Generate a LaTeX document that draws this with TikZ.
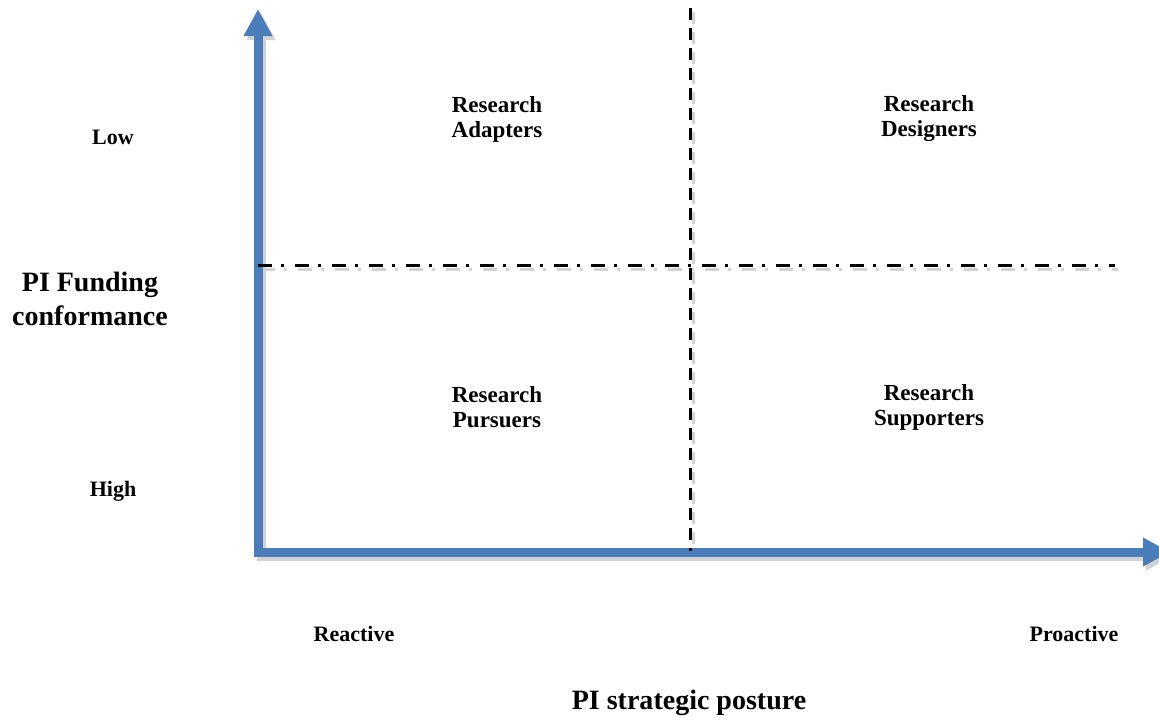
\documentclass[tikz,border=0pt]{standalone}
\usepackage{fontspec}
\setmainfont{Liberation Serif}
\usetikzlibrary{arrows.meta}
\definecolor{axisblue}{RGB}{74,126,187}
\definecolor{shadowgray}{RGB}{210,210,210}
\tikzset{
  axis/.style={line width=4.5pt,draw=axisblue,line join=miter,
    {Triangle[length=13.5pt,width=13.5pt,fill=axisblue]}-{Triangle[length=13.5pt,width=13.5pt,fill=axisblue]}},
  axisshadow/.style={line width=4.5pt,draw=shadowgray,line join=miter,
    {Triangle[length=13.5pt,width=13.5pt,fill=shadowgray]}-{Triangle[length=13.5pt,width=13.5pt,fill=shadowgray]}},
  splitv/.style={line width=1.5pt,dash pattern=on 6pt off 4pt},
  splith/.style={line width=1.5pt,dash pattern=on 7pt off 4.5pt on 1.5pt off 5.5pt},
  quad/.style={font=\fontsize{11.5}{12.5}\selectfont\bfseries,align=center},
  tick/.style={font=\fontsize{11}{12}\selectfont\bfseries},
  title/.style={font=\fontsize{14}{17}\selectfont\bfseries,align=center}
}
\begin{document}
\begin{tikzpicture}[x=0.5pt,y=-0.5pt]
	\useasboundingbox (0,0) rectangle (1159,724);
	\coordinate (origin) at (258,552);
	\coordinate (ytip) at (258,9);
	\coordinate (xtip) at (1170,552);
	\coordinate (vtop) at (690,8);
	\coordinate (vbot) at (690,551);
	\coordinate (hleft) at (258,265);
	\coordinate (hright) at (1115,265);
	% shadows
	\begin{scope}[transform canvas={xshift=1.5pt,yshift=-2pt}]
		\draw[axisshadow] (ytip)--(origin)--(xtip);
		\draw[splitv,shadowgray] (vtop)--(vbot);
		\draw[splith,shadowgray] (hleft)--(hright);
	\end{scope}
	% axes and quadrant lines
	\draw[axis] (ytip)--(origin)--(xtip);
	\draw[splitv] (vtop)--(vbot);
	\draw[splith] (hleft)--(hright);
	% quadrant labels
	\node[quad] (adapters) at (497,119) {Research\\Adapters};
	\node[quad] (designers) at (929,119) {Research\\Designers};
	\node[quad] (pursuers) at (497,407) {Research\\Pursuers};
	\node[quad] (supporters) at (929,407) {Research\\Supporters};
	% axis labels
	\node[tick] (low) at (113,137) {Low};
	\node[tick] (high) at (113,491) {High};
	\node[tick] (reactive) at (354,634) {Reactive};
	\node[tick] (proactive) at (1074,634) {Proactive};
	\node[title] (funding) at (90,299) {PI Funding\\conformance};
	\node[title] (posture) at (689,703) {PI strategic posture};
\end{tikzpicture}
\end{document}
